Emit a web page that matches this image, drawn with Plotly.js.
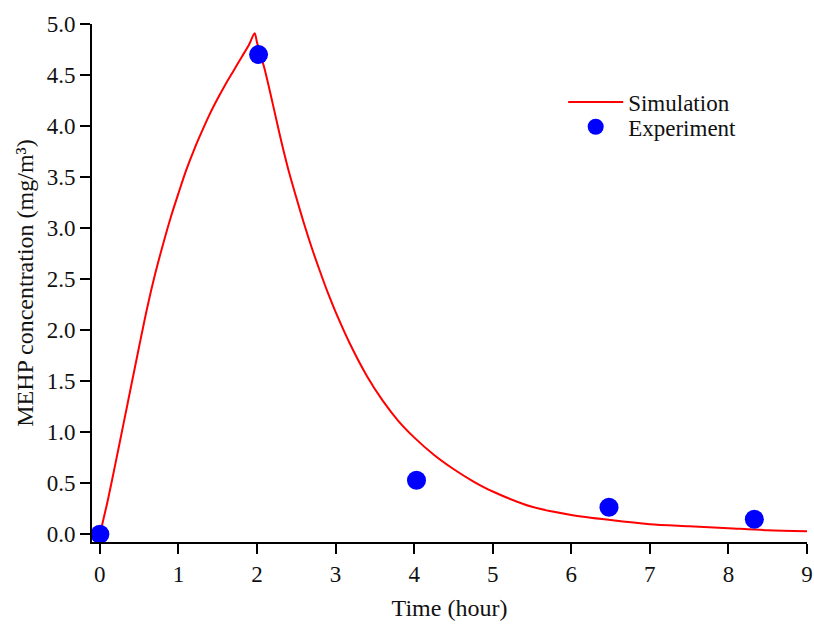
<!DOCTYPE html>
<html>
<head>
<meta charset="utf-8">
<script src="https://cdn.plot.ly/plotly-3.0.1.min.js"></script>
<style>html,body{margin:0;padding:0;background:#fff;}#chart{width:814px;height:624px;}</style>
</head>
<body>
<div id="chart"></div>
<script>
// Simulation curve (hours, mg/m3)
var simTime = [0, 0.1, 0.2, 0.3, 0.4, 0.5, 0.6, 0.7, 0.8, 0.9, 1.0, 1.1, 1.2, 1.3, 1.4, 1.5, 1.6, 1.7, 1.8, 1.9, 1.97,
               2.0, 2.1, 2.2, 2.3, 2.4, 2.5, 2.6, 2.7, 2.8, 2.9, 3.0, 3.2, 3.4, 3.6, 3.8, 4.0, 4.25, 4.5, 4.75,
               5.0, 5.5, 6.0, 6.5, 7.0, 7.5, 8.0, 8.5, 9.0];
var simConc = [0, 0.33, 0.70, 1.08, 1.46, 1.84, 2.21, 2.54, 2.83, 3.10, 3.34, 3.57, 3.77, 3.95, 4.12, 4.27, 4.41, 4.54, 4.67, 4.80, 4.91,
               4.82, 4.55, 4.22, 3.88, 3.57, 3.30, 3.04, 2.80, 2.58, 2.37, 2.18, 1.84, 1.55, 1.31, 1.11, 0.95, 0.78, 0.64, 0.52,
               0.42, 0.27, 0.19, 0.14, 0.10, 0.08, 0.06, 0.04, 0.03];
// Experimental points
var expTime = [0, 2.02, 4.03, 6.48, 8.33];
var expConc = [0.0, 4.70, 0.53, 0.265, 0.147];
// Tick labels
var xTicks = [0, 1, 2, 3, 4, 5, 6, 7, 8, 9];
var yTicks = [0.0, 0.5, 1.0, 1.5, 2.0, 2.5, 3.0, 3.5, 4.0, 4.5, 5.0];
var yTickText = yTicks.map(function(v){ return v.toFixed(1); });

var font = "Liberation Serif, Times New Roman, serif";

var traces = [
  {x: simTime, y: simConc, type: 'scatter', mode: 'lines', name: 'Simulation',
   line: {color: '#ff0000', width: 2, shape: 'spline', smoothing: 0.8}, cliponaxis: false, legend: 'legend'},
  {x: expTime, y: expConc, type: 'scatter', mode: 'markers', name: 'Experiment',
   marker: {color: '#0000ff', size: 19}, cliponaxis: false, legend: 'legend2'}
];

var legendFont = {family: font, size: 23, color: '#111'};

var layout = {
  width: 814, height: 624,
  margin: {l: 92, r: 7, t: 24, b: 82},
  paper_bgcolor: '#fff', plot_bgcolor: '#fff',
  font: {family: font, size: 23, color: '#000'},
  showlegend: true,
  legend: {x: 0.659, y: 0.891, xanchor: 'left', yanchor: 'top',
           font: legendFont, itemwidth: 55, bgcolor: 'rgba(0,0,0,0)'},
  legend2: {x: 0.659, y: 0.843, xanchor: 'left', yanchor: 'top',
           font: legendFont, itemwidth: 55, bgcolor: 'rgba(0,0,0,0)'},
  xaxis: {range: [-0.1, 9], tickvals: xTicks, ticktext: xTicks.map(String),
          showgrid: false, zeroline: false, showline: true, linecolor: '#000', linewidth: 2,
          ticks: 'outside', ticklen: 10, tickwidth: 2, tickcolor: '#000',
          tickfont: {family: font, size: 23, color: '#111'},
          title: {text: 'Time (hour)', font: {family: font, size: 24, color: '#111'}, standoff: 14}},
  yaxis: {range: [-0.075, 5.0], tickvals: yTicks, ticktext: yTickText,
          showgrid: false, zeroline: false, showline: true, linecolor: '#000', linewidth: 2,
          ticks: 'outside', ticklen: 10, tickwidth: 2, tickcolor: '#000',
          tickfont: {family: font, size: 23, color: '#111'},
          title: {text: 'MEHP concentration (mg/m³)', font: {family: font, size: 24, color: '#111'}, standoff: 6}}
};

Plotly.newPlot('chart', traces, layout, {displayModeBar: false, staticPlot: true});
</script>
</body>
</html>
